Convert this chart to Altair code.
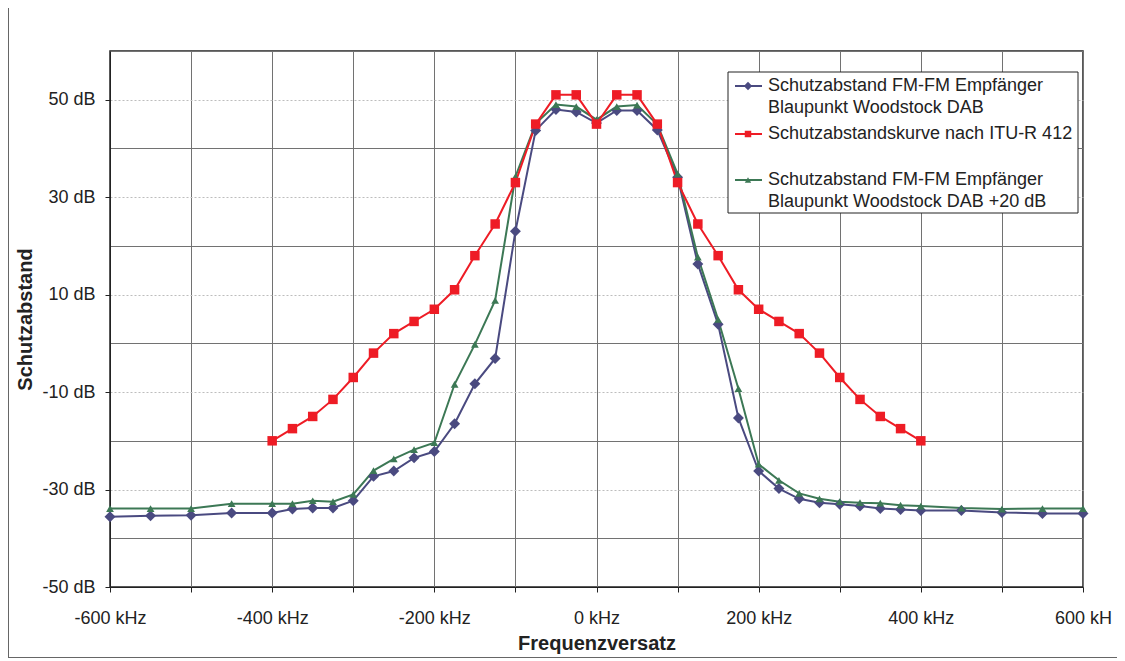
import altair as alt
import pandas as pd

# ---- data ----
freq_dab = [-600, -550, -500, -450, -400, -375, -350, -325, -300, -275, -250, -225,
            -200, -175, -150, -125, -100, -75, -50, -25, 0, 25, 50, 75, 100, 125,
            150, 175, 200, 225, 250, 275, 300, 325, 350, 375, 400, 450, 500, 550, 600]
dab = [-35.6, -35.4, -35.3, -34.8, -34.8, -34.0, -33.8, -33.8, -32.3, -27.3, -26.2, -23.5,
       -22.2, -16.5, -8.3, -3.1, 23.0, 43.7, 48.0, 47.5, 45.2, 47.8, 47.8, 43.8, 34.1, 16.3,
       3.9, -15.3, -26.2, -29.8, -31.9, -32.7, -33.0, -33.4, -33.9, -34.1, -34.3, -34.3,
       -34.7, -34.9, -34.9]
dab20 = [-33.9, -33.9, -33.9, -32.9, -32.9, -32.9, -32.3, -32.5, -31.0, -26.1, -23.7, -21.8,
         -20.4, -8.4, -0.2, 8.8, 34.2, 45.1, 49.0, 48.6, 45.9, 48.6, 48.9, 44.9, 34.8, 17.7,
         4.9, -9.3, -24.8, -28.1, -30.8, -31.9, -32.5, -32.7, -32.8, -33.2, -33.4, -33.8,
         -34.0, -33.9, -33.9]
freq_itu = [-400, -375, -350, -325, -300, -275, -250, -225, -200, -175, -150, -125, -100,
            -75, -50, -25, 0, 25, 50, 75, 100, 125, 150, 175, 200, 225, 250, 275, 300,
            325, 350, 375, 400]
itu = [-20, -17.5, -15, -11.5, -7, -2, 2, 4.5, 7, 11, 18, 24.5, 33, 45, 51, 51, 45,
       51, 51, 45, 33, 24.5, 18, 11, 7, 4.5, 2, -2, -7, -11.5, -15, -17.5, -20]

series_keys = ["dab", "itu", "dab20"]
series_colors = ["#4a4a80", "#ee1c25", "#3c7855"]
series_shapes = ["diamond", "square", "triangle-up"]
series_sizes = [120, 60, 55]
legend_lines = [
    ["Schutzabstand FM-FM Empfänger", "Blaupunkt Woodstock DAB"],
    ["Schutzabstandskurve nach ITU-R 412"],
    ["Schutzabstand FM-FM Empfänger", "Blaupunkt Woodstock DAB +20 dB"],
]

df = pd.concat([
    pd.DataFrame({"f": freq_dab, "v": dab, "s": "dab"}),
    pd.DataFrame({"f": freq_dab, "v": dab20, "s": "dab20"}),
    pd.DataFrame({"f": freq_itu, "v": itu, "s": "itu"}),
])

FONT = "Liberation Sans"
W, H = 973, 536
GRID = "#727272"

even = "datum.value % 20 === 0"
x_enc = alt.X("f:Q", scale=alt.Scale(domain=[-600, 600], nice=False, zero=False),
              axis=alt.Axis(values=list(range(-600, 601, 100)),
                            labelExpr="datum.value % 200 === 0 ? (datum.value === 600 ? '600 kH' : datum.value + ' kHz') : ''",
                            grid=True, gridColor=GRID, gridWidth=1,
                            tickSize=5, tickColor="#222", domainColor="#222",
                            labelFont=FONT, labelFontSize=18, labelColor="#222",
                            labelBaseline="alphabetic", labelPadding=31,
                            labelOverlap=False, labelFlush=False,
                            title="Frequenzversatz", titleFont=FONT, titleFontSize=20,
                            titleFontWeight="bold", titleColor="#222",
                            titleX=W / 2, titleY=62, titleBaseline="alphabetic",
                            titleAlign="center"))
y_enc = alt.Y("v:Q", scale=alt.Scale(domain=[-50, 60], nice=False, zero=False),
              axis=alt.Axis(values=list(range(-50, 61, 10)),
                            labelExpr=f"{even} ? '' : datum.value + ' dB'",
                            grid=True,
                            gridDash={"condition": {"test": even, "value": []}, "value": [2, 2]},
                            gridColor={"condition": {"test": even, "value": GRID}, "value": "#bdbdbd"},
                            tickOpacity={"condition": {"test": even, "value": 0}, "value": 1},
                            tickSize=5, tickColor="#222", domainColor="#222",
                            labelFont=FONT, labelFontSize=18, labelColor="#222",
                            labelPadding=10, labelOverlap=False, labelFlush=False,
                            title="Schutzabstand", titleFont=FONT, titleFontSize=20,
                            titleFontWeight="bold", titleColor="#222",
                            titleX=-85, titleY=H / 2, titleAngle=-90,
                            titleBaseline="middle", titleAlign="center"))

color = alt.Color("s:N", scale=alt.Scale(domain=series_keys, range=series_colors), legend=None)
shape = alt.Shape("s:N", scale=alt.Scale(domain=series_keys, range=series_shapes), legend=None)
size = alt.Size("s:N", scale=alt.Scale(domain=series_keys, range=series_sizes), legend=None)

lines = alt.Chart(df).mark_line(strokeWidth=2).encode(
    x=x_enc, y=y_enc, color=color, detail="s:N", order="f:Q")
points = alt.Chart(df).mark_point(filled=True, opacity=1).encode(
    x="f:Q", y="v:Q", color=color, shape=shape, size=size)

one = alt.Data(values=[{}])
layers = [lines, points]

# outer frame of the chart
layers.append(alt.Chart(one).mark_rect(filled=False, stroke="#666", strokeWidth=2).encode(
    x=alt.value(-102), x2=alt.value(1040), y=alt.value(-50), y2=alt.value(607)))

# legend box
layers.append(alt.Chart(one).mark_rect(fill="white", stroke="#222", strokeWidth=1).encode(
    x=alt.value(618), x2=alt.value(968), y=alt.value(21), y2=alt.value(162)))

sym_y = [35, 83, 129]
text_y = [[35, 57], [83], [129, 151]]
sym_size = [70, 42, 40]
for i, key in enumerate(series_keys):
    layers.append(alt.Chart(one).mark_rule(color=series_colors[i], strokeWidth=2).encode(
        x=alt.value(625), x2=alt.value(652), y=alt.value(sym_y[i])))
    layers.append(alt.Chart(one).mark_point(filled=True, opacity=1, shape=series_shapes[i],
                                            color=series_colors[i], size=sym_size[i]).encode(
        x=alt.value(638), y=alt.value(sym_y[i])))
    for line, ty in zip(legend_lines[i], text_y[i]):
        layers.append(alt.Chart(one).mark_text(align="left", baseline="middle", font=FONT,
                                               fontSize=18, color="#222", text=line).encode(
            x=alt.value(658), y=alt.value(ty)))

chart = alt.layer(*layers).properties(
    width=W, height=H,
    padding={"left": 102, "top": 43, "right": 34, "bottom": 71},
    autosize=alt.AutoSizeParams(type="none"),
    background="white",
).configure_view(stroke="#222", strokeWidth=1.5)

chart.save("out.html", embed_options={"renderer": "svg", "actions": False})
